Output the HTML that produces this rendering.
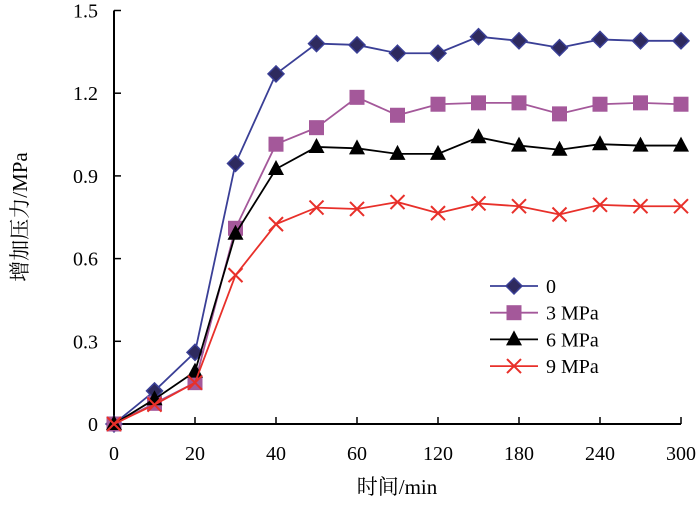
<!DOCTYPE html>
<html><head><meta charset="utf-8"><style>
body{margin:0;background:#fff}
text{font-family:"Liberation Serif","Noto Serif CJK SC",serif;font-size:20px;fill:#000}
.title{font-size:21px}
</style></head><body>
<svg id="chart" width="700" height="525" xmlns="http://www.w3.org/2000/svg">
<g id="axes"></g><g id="series"></g><g id="legend"></g>
<text class="title" x="397" y="494" text-anchor="middle">时间/min</text>
<text class="title" transform="translate(27,217) rotate(-90)" text-anchor="middle">增加压力/MPa</text>
</svg>
<script>
const xTickLabels=[0,20,40,60,120,180,240,300];
const yTickLabels=["0","0.3","0.6","0.9","1.2","1.5"];
const times=[0,10,20,30,40,50,60,90,120,150,180,210,240,270,300];
const seriesNames=["0","3 MPa","6 MPa","9 MPa"];
const s0=[0,0.12,0.26,0.945,1.27,1.38,1.375,1.345,1.345,1.405,1.39,1.365,1.395,1.39,1.39];
const s3=[0,0.075,0.15,0.71,1.015,1.075,1.185,1.12,1.16,1.165,1.165,1.125,1.16,1.165,1.16];
const s6=[0,0.09,0.19,0.69,0.925,1.005,1.0,0.98,0.98,1.04,1.01,0.995,1.015,1.01,1.01];
const s9=[0,0.07,0.15,0.54,0.725,0.785,0.78,0.805,0.765,0.8,0.79,0.76,0.795,0.79,0.79];
const NS="http://www.w3.org/2000/svg";
const X0=114,X1=681,Y0=424,Y1=10.5;
function xs(t){const n=xTickLabels.length-1,w=(X1-X0)/n;
 for(let i=0;i<n;i++){const a=xTickLabels[i],b=xTickLabels[i+1];if(t<=b)return X0+w*(i+(t-a)/(b-a));}
 return X1;}
function ys(v){return Y0-(v/1.5)*(Y0-Y1);}
function mk(tag,at,p){const e=document.createElementNS(NS,tag);for(const k in at)e.setAttribute(k,at[k]);p.appendChild(e);return e;}
const ax=document.getElementById('axes');
let e=mk('line',{x1:X0,y1:Y1,x2:X0,y2:Y0,stroke:'#000','stroke-width':2},ax);

e=mk('line',{x1:X0,y1:Y0,x2:X1,y2:Y0,stroke:'#000','stroke-width':2},ax);

xTickLabels.forEach(t=>{const x=xs(t);
 mk('line',{x1:x,y1:Y0,x2:x,y2:Y0-7,stroke:'#000','stroke-width':1.5},ax);
 const tx=mk('text',{x:x,y:Y0+36,'text-anchor':'middle'},ax);tx.textContent=t;
 });
yTickLabels.forEach(l=>{const y=ys(parseFloat(l));
 mk('line',{x1:X0,y1:y,x2:X0+7,y2:y,stroke:'#000','stroke-width':1.5},ax);
 const tx=mk('text',{x:X0-16,y:y+7,'text-anchor':'end'},ax);tx.textContent=l;
 });
const styles=[{c:'#3a3f96',m:'diamond',f:'#2e2a5e'},{c:'#a4589a',m:'square',f:'#a4589a'},{c:'#000',m:'triangle',f:'#000'},{c:'#e8302a',m:'x',f:'none'}];
function marker(g,m,x,y,st){
 if(m==='diamond')return mk('polygon',{points:`${x},${y-8} ${x+8},${y} ${x},${y+8} ${x-8},${y}`,fill:st.f,stroke:st.c,'stroke-width':1.5},g);
 if(m==='square')return mk('rect',{x:x-7.5,y:y-7.5,width:15,height:15,fill:st.f},g);
 if(m==='triangle')return mk('polygon',{points:`${x},${y-9} ${x+8},${y+6} ${x-8},${y+6}`,fill:st.f},g);
 const gg=mk('g',{},g);
 mk('line',{x1:x-7,y1:y-7,x2:x+7,y2:y+7,stroke:st.c,'stroke-width':2},gg);
 mk('line',{x1:x-7,y1:y+7,x2:x+7,y2:y-7,stroke:st.c,'stroke-width':2},gg);return gg;}
const sg=document.getElementById('series');
[s0,s3,s6,s9].forEach((s,i)=>{const st=styles[i];
 const g=mk('g',{},sg);
 
 
 const pl=mk('polyline',{points:s.map((v,j)=>xs(times[j])+','+ys(v)).join(' '),fill:'none',stroke:st.c,'stroke-width':1.8},g);
 
 s.forEach((v,j)=>{const m=marker(g,st.m,xs(times[j]),ys(v),st);
  });});
const lg=document.getElementById('legend');
seriesNames.forEach((n,i)=>{const st=styles[i],y=286+i*26.7;
 const g=mk('g',{},lg);
 
 mk('line',{x1:490,y1:y,x2:538,y2:y,stroke:st.c,'stroke-width':1.8},g);
 marker(g,st.m,514,y,st);
 const t=mk('text',{x:546,y:y+7},g);t.textContent=n;});
</script>
</body></html>
